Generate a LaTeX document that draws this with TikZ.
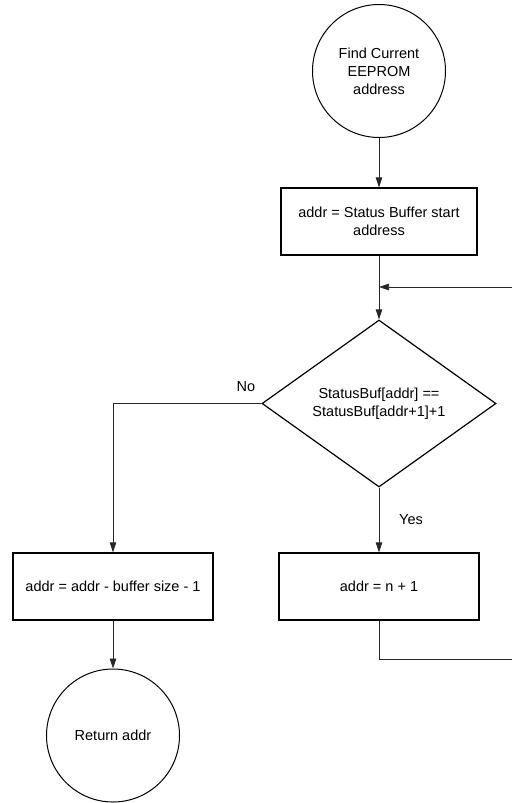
\documentclass[tikz,border=0pt]{standalone}
\usepackage{fontspec}
\setmainfont{Liberation Sans}
\usetikzlibrary{shapes.geometric,arrows.meta}
\tikzset{
  flowbox/.style={draw,line width=1.2pt,minimum width=200pt,minimum height=67pt,inner sep=0pt,align=center},
  term/.style={draw,circle,line width=1pt,minimum size=133pt,inner sep=0pt,align=center},
  decide/.style={draw,diamond,line width=1.2pt,minimum width=234pt,minimum height=167pt,inner sep=0pt,align=center},
  conn/.style={line width=0.7pt,black!85,-{Triangle[length=10pt,width=6.5pt]}},
  plainconn/.style={line width=0.7pt,black!85}
}
\begin{document}
\begin{tikzpicture}[x=1pt,y=-1pt,font=\fontsize{14.5}{18}\selectfont]
  \useasboundingbox (0,0) rectangle (512,803);
  % shapes
  \node[term] (start) at (379,71) {Find Current\\EEPROM\\address};
  \node[flowbox,minimum width=196pt] (init) at (379,221.5) {addr = Status Buffer start\\address};
  \node[decide] (check) at (379,403.5) {StatusBuf[addr] ==\\StatusBuf[addr+1]+1};
  \node[flowbox] (dec) at (113,586.5) {addr = addr - buffer size - 1};
  \node[flowbox] (inc) at (379,586.5) {addr = n + 1};
  \node[term] (ret) at (113,735.5) {Return addr};
  \coordinate (loopin) at (512,287);
  \coordinate (loopout) at (512,659);
  % connectors
  \draw[conn] (start) -- (init);
  \draw[conn] (init) -- (check);
  \draw[conn] (loopin) -- (loopin -| check.north);
  \draw[conn] (check.west) -| (dec.north);
  \draw[conn] (check.south) -- (inc.north);
  \draw[conn] (dec) -- (ret);
  \draw[plainconn] (inc.south) |- (loopout);
  \node (nolabel) at (246,387) {No};
  \node (yeslabel) at (411,520) {Yes};
\end{tikzpicture}
\end{document}
